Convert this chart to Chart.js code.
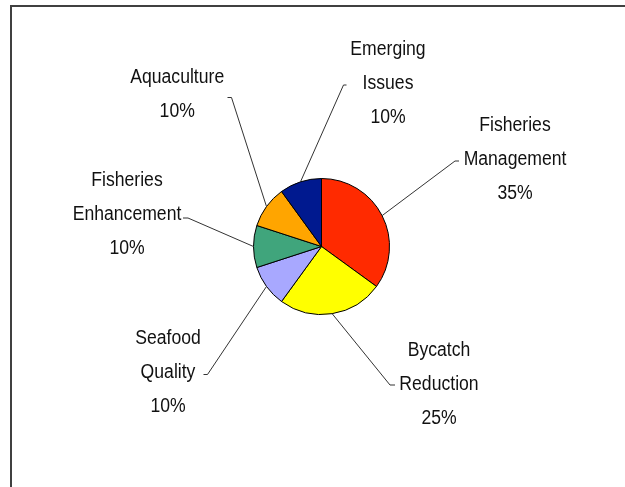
<!DOCTYPE html>
<html>
<head>
<meta charset="utf-8">
<script src="https://cdn.jsdelivr.net/npm/chart.js@4/dist/chart.umd.min.js"></script>
<style>
  html, body { margin: 0; padding: 0; background: #fff; }
  #wrap { width: 625px; height: 487px; position: relative; }
</style>
</head>
<body>
<div id="wrap"><canvas id="pieChart" width="625" height="487"></canvas></div>
<script>
// program areas and share of funding (%)
const categories = [
    ["Fisheries", "Management"],
    ["Bycatch", "Reduction"],
    ["Seafood", "Quality"],
    ["Fisheries", "Enhancement"],
    ["Aquaculture"],
    ["Emerging", "Issues"]
];
const shares = [35, 25, 10, 10, 10, 10];
const sliceColors = ["#FF2A00", "#FFFF00", "#A8A8FF", "#40A57C", "#FFA500", "#00198F"];

// where each label block sits, relative to the pie centre:
// text centre x, first baseline y, and the end of the leader line
const labelLayout = [
    { tx: 193.5, ty: -115.5, lx: 133.5, ly: -85.5, hook: 4 },
    { tx: 117.5, ty: 109.5, lx: 68.5, ly: 138.5, hook: 5 },
    { tx: -153.5, ty: 97.5, lx: -114, ly: 128, hook: -4 },
    { tx: -194.5, ty: -60.5, lx: -133.5, ly: -28.5, hook: -5 },
    { tx: -144.3, ty: -163.8, lx: -90, ly: -149, hook: -4 },
    { tx: 66.5, ty: -191.5, lx: 22, ly: -161.5, hook: 3 }
];

const framePlugin = {
    id: "frame",
    beforeDraw(chart) {
        const ctx = chart.ctx;
        ctx.save();
        ctx.fillStyle = "#fff";
        ctx.fillRect(0, 0, chart.width, chart.height);
        ctx.strokeStyle = "#404040";
        ctx.lineWidth = 2;
        ctx.beginPath();
        ctx.moveTo(11, chart.height + 2);
        ctx.lineTo(11, 6);
        ctx.lineTo(chart.width + 2, 6);
        ctx.stroke();
        ctx.restore();
    }
};

const labelPlugin = {
    id: "sliceLabels",
    afterDatasetsDraw(chart) {
        const ctx = chart.ctx;
        const meta = chart.getDatasetMeta(0);
        const values = chart.data.datasets[0].data;
        const total = values.reduce((a, b) => a + b, 0);
        ctx.save();
        meta.data.forEach((arc, i) => {
            const p = arc.getProps(["x", "y", "startAngle", "endAngle", "outerRadius"], true);
            const mid = (p.startAngle + p.endAngle) / 2;
            const sx = p.x + Math.cos(mid) * p.outerRadius;
            const sy = p.y + Math.sin(mid) * p.outerRadius;
            const lay = labelLayout[i];
            const ex = p.x + lay.lx, ey = p.y + lay.ly;

            // leader line with a short hook towards the text
            ctx.strokeStyle = "#333";
            ctx.lineWidth = 1;
            ctx.beginPath();
            ctx.moveTo(sx, sy);
            ctx.lineTo(ex, ey);
            ctx.lineTo(ex + lay.hook, ey);
            ctx.stroke();

            const lines = categories[i].concat([Math.round(values[i] / total * 100) + "%"]);
            ctx.fillStyle = "#111";
            ctx.font = '20px "Liberation Sans", Arial, sans-serif';
            ctx.textAlign = "center";
            ctx.textBaseline = "alphabetic";
            lines.forEach((txt, k) => {
                ctx.save();
                ctx.translate(p.x + lay.tx, p.y + lay.ty + k * 34);
                ctx.scale(0.88, 1);
                ctx.fillText(txt, 0, 0);
                ctx.restore();
            });
        });
        ctx.restore();
    }
};

new Chart(document.getElementById("pieChart").getContext("2d"), {
    type: "pie",
    data: {
        labels: categories.map(c => c.join(" ")),
        datasets: [{
            data: shares,
            backgroundColor: sliceColors,
            borderColor: "#000",
            borderWidth: 1
        }]
    },
    options: {
        responsive: false,
        animation: false,
        layout: {
            padding: { left: 253, right: 235, top: 178, bottom: 172 }
        },
        plugins: {
            legend: { display: false },
            tooltip: { enabled: false }
        }
    },
    plugins: [framePlugin, labelPlugin]
});
</script>
</body>
</html>
